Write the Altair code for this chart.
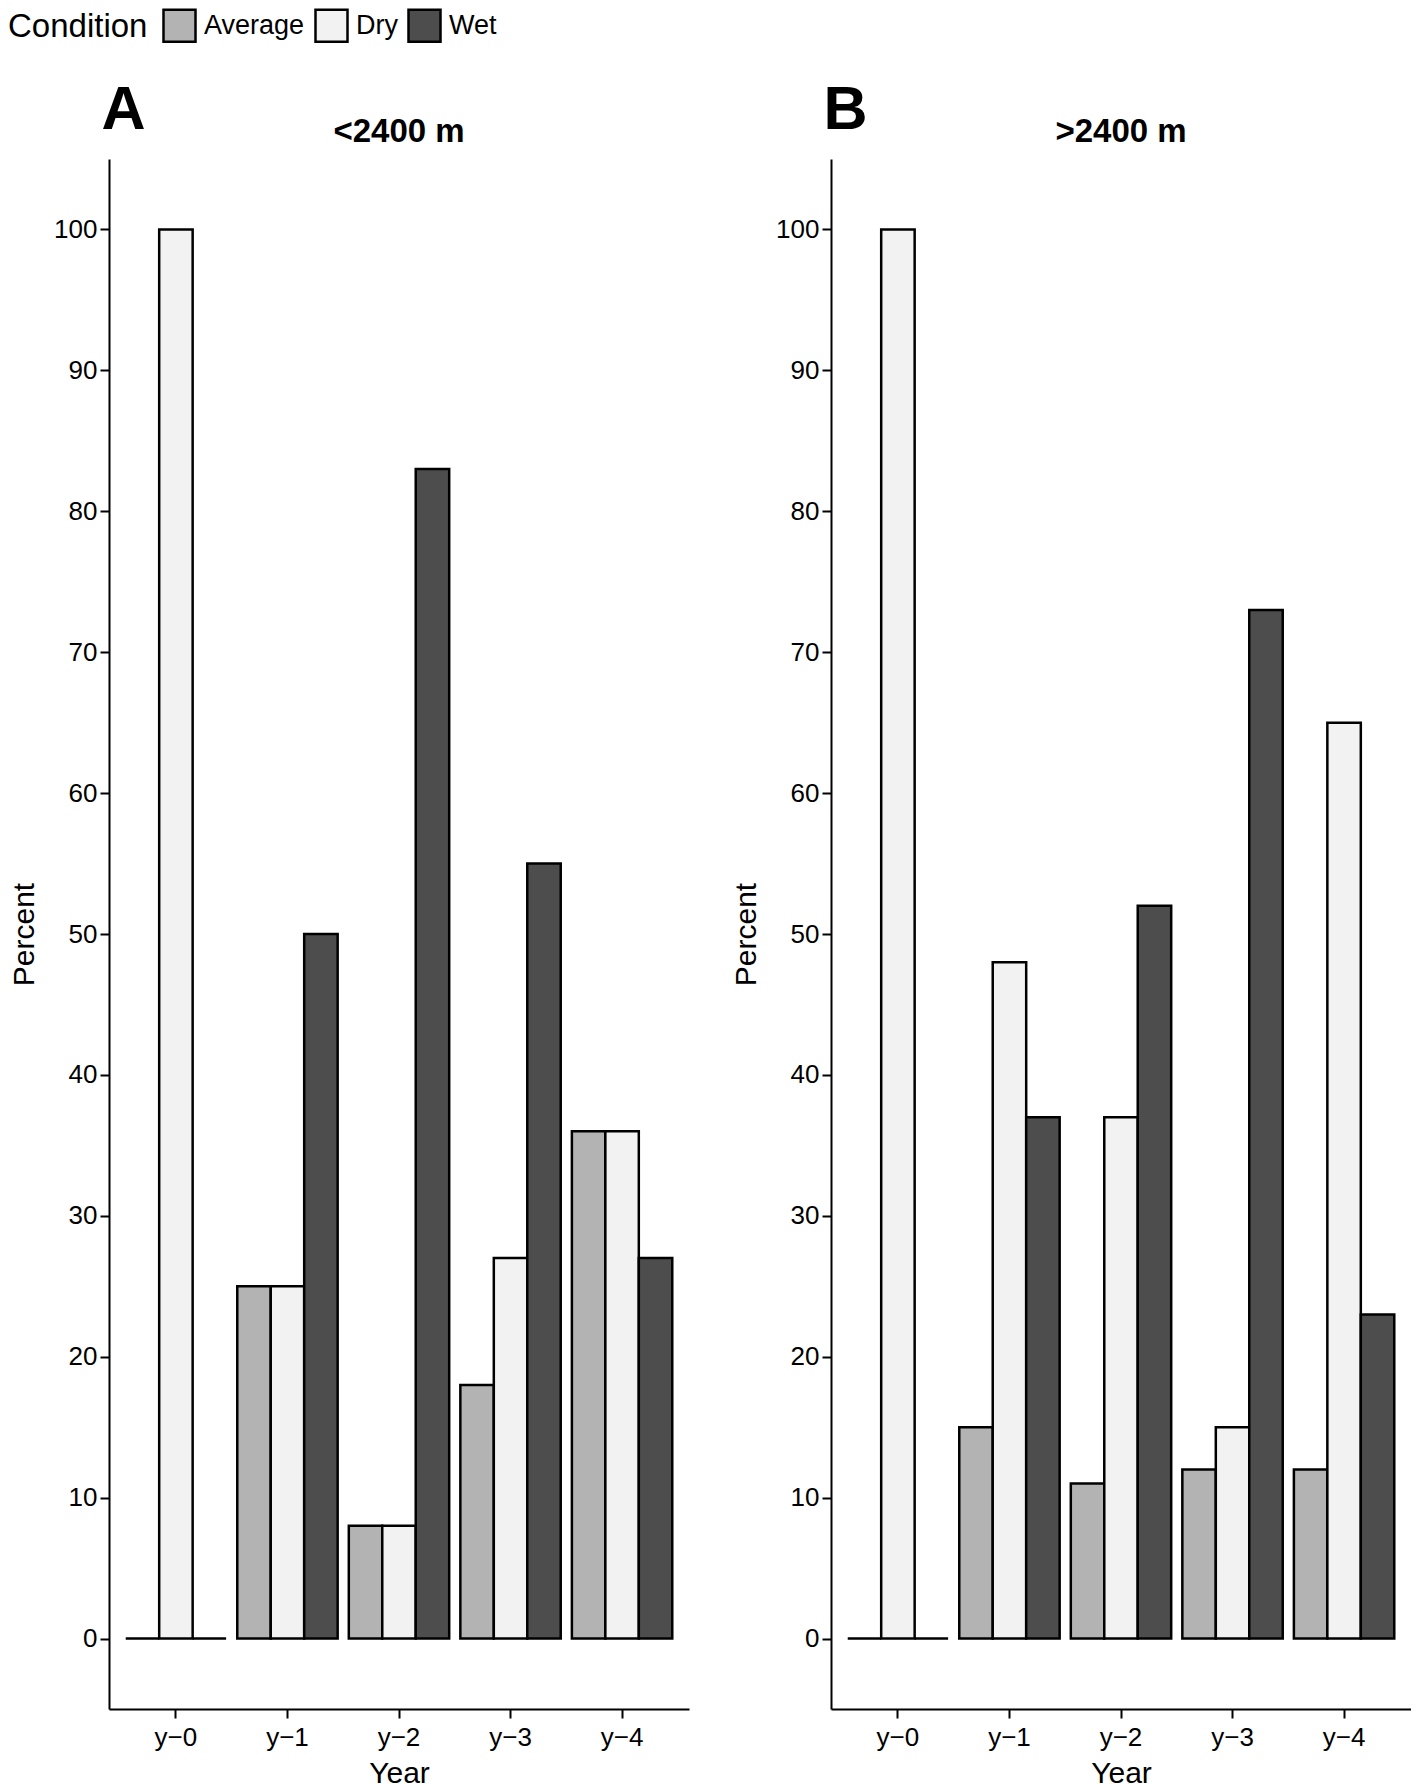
import altair as alt
import pandas as pd

FONT = "Liberation Sans"

years = ["y−0", "y−1", "y−2", "y−3", "y−4"]
conditions = ["Average", "Dry", "Wet"]
fill_colors = ["#B3B3B3", "#F2F2F2", "#4D4D4D"]
panel_letters = ["A", "B"]
panel_titles = ["<2400 m", ">2400 m"]
y_ticks = [0, 10, 20, 30, 40, 50, 60, 70, 80, 90, 100]

low_average = [0, 25, 8, 18, 36]
low_dry = [100, 25, 8, 27, 36]
low_wet = [0, 50, 83, 55, 27]

high_average = [0, 15, 11, 12, 12]
high_dry = [100, 48, 37, 15, 65]
high_wet = [0, 37, 52, 73, 23]

PW, PH = 580, 1550


def make_df(avg, dry, wet):
    rows = []
    for i, yr in enumerate(years):
        for cond, vals in zip(conditions, [avg, dry, wet]):
            rows.append({"Year": yr, "Condition": cond, "Percent": vals[i], "Base": 0})
    return pd.DataFrame(rows)


legend = alt.Legend(
    orient="none", legendX=-101, legendY=-151, direction="horizontal", columns=3,
    titleOrient="left", symbolType="square", symbolSize=1024,
    symbolStrokeColor="black", symbolStrokeWidth=2.5,
    labelFontSize=27, titleFontSize=33, titleFontWeight="normal",
    labelFont=FONT, titleFont=FONT, labelColor="black", titleColor="black",
    labelOffset=7, columnPadding=5, titlePadding=14,
)


def panel(df, letter, title):
    bars = alt.Chart(df).mark_bar(stroke="black", strokeWidth=2.5).encode(
        x=alt.X("Year:N", sort=years,
                scale=alt.Scale(paddingInner=0.1, paddingOuter=0.15),
                axis=alt.Axis(title="Year", labelAngle=0, labelPadding=6, titlePadding=8)),
        xOffset=alt.XOffset("Condition:N", sort=conditions,
                            scale=alt.Scale(paddingInner=0, paddingOuter=0)),
        y=alt.Y("Percent:Q", scale=alt.Scale(domain=[-5, 105], nice=False, zero=False),
                axis=alt.Axis(values=y_ticks, title="Percent", labelPadding=3, titlePadding=14)),
        y2=alt.Y2("Base:Q"),
        fill=alt.Fill("Condition:N",
                      scale=alt.Scale(domain=conditions, range=fill_colors),
                      legend=legend),
    )
    letter_txt = alt.Chart(pd.DataFrame({"label": [letter]})).mark_text(
        fontSize=61, fontWeight="bold", align="center", baseline="alphabetic",
        font=FONT, color="black",
    ).encode(x=alt.value(14.5), y=alt.value(-30), text="label:N")
    title_txt = alt.Chart(pd.DataFrame({"label": [title]})).mark_text(
        fontSize=33, fontWeight="bold", align="center", baseline="alphabetic",
        font=FONT, color="black",
    ).encode(x=alt.value(PW / 2), y=alt.value(-17), text="label:N")
    return alt.layer(bars, letter_txt, title_txt).properties(width=PW, height=PH)


pA = panel(make_df(low_average, low_dry, low_wet), panel_letters[0], panel_titles[0])
pB = panel(make_df(high_average, high_dry, high_wet), panel_letters[1], panel_titles[1])

chart = alt.hconcat(pA, pB, spacing=42).properties(padding=0).configure_view(
    strokeWidth=0
).configure_axis(
    labelFont=FONT, titleFont=FONT, labelFontSize=26, titleFontSize=30,
    titleFontWeight="normal", labelColor="black", titleColor="black",
    domainColor="black", domainWidth=2, tickColor="black", tickWidth=2,
    tickSize=9, grid=False,
)

chart.save("out.html", embed_options={"renderer": "svg", "actions": False})
